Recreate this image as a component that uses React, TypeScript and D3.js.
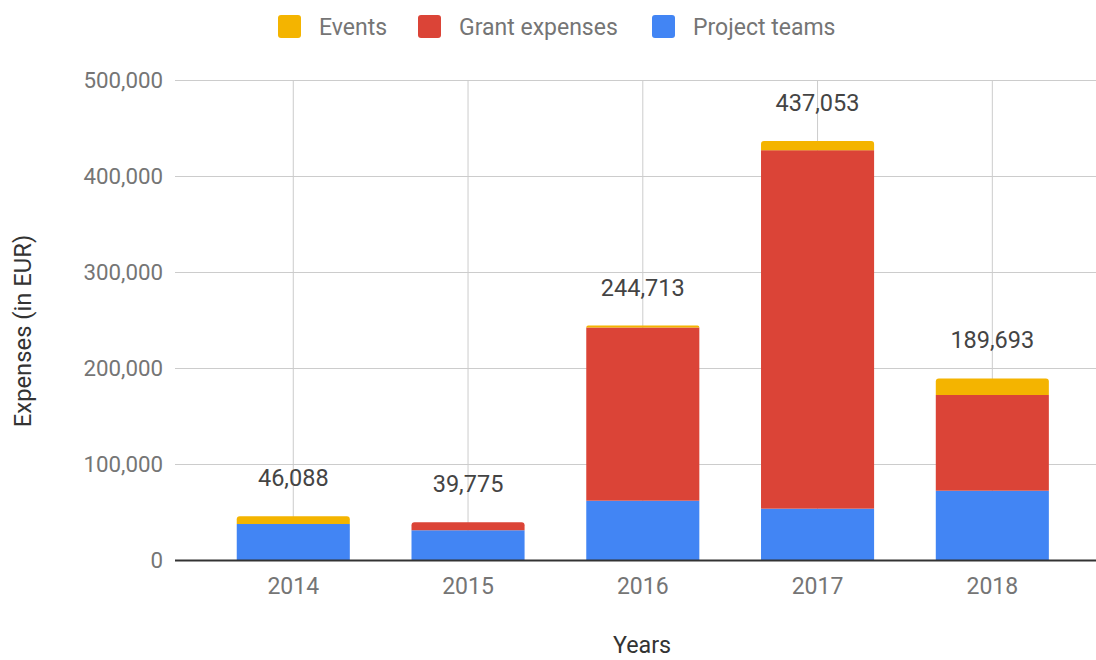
import React, { useEffect } from "react";
import * as d3 from "d3";

const years = ["2014", "2015", "2016", "2017", "2018"];
const projectTeams = [38000, 31500, 62300, 54000, 72700];
const grantExpenses = [0, 8275, 180413, 373400, 99700];
const events = [8088, 0, 2000, 9653, 17293];
const totals = [46088, 39775, 244713, 437053, 189693];
const seriesNames = ["Events", "Grant expenses", "Project teams"];
const seriesColors = ["#f4b400", "#db4437", "#4285f4"];
const yTicks = [0, 100000, 200000, 300000, 400000, 500000];

const W = 1096;
const H = 660;
const FONT = "Roboto, 'Noto Sans', Arial, sans-serif";

export default function App() {
  useEffect(() => {
    document.body.style.margin = "0";
  }, []);

  const plotLeft = 175;
  const plotRight = 1096;
  const x = d3.scaleBand<string>().domain(years).range([205.9, 1079.7]).paddingInner(0.353).paddingOuter(0.1765);
  const y = d3.scaleLinear().domain([0, 500000]).range([560.5, 80.5]);
  const fmt = d3.format(",");

  const rows = years.map((yr, i) => ({
    year: yr,
    "Project teams": projectTeams[i],
    "Grant expenses": grantExpenses[i],
    Events: events[i],
  }));
  const stackOrder = ["Project teams", "Grant expenses", "Events"];
  const stacked = d3.stack<any>().keys(stackOrder)(rows);
  const colorOf = (k: string) => seriesColors[seriesNames.indexOf(k)];

  const legendX = [278, 418, 652];

  const topRounded = (x0: number, y0: number, w: number, h: number, r: number) => {
    const rr = Math.min(r, h);
    return `M${x0},${y0 + h}V${y0 + rr}Q${x0},${y0} ${x0 + rr},${y0}H${x0 + w - rr}Q${x0 + w},${y0} ${x0 + w},${y0 + rr}V${y0 + h}Z`;
  };

  return (
    <svg width={W} height={H} style={{ display: "block" }} fontFamily={FONT}>
      <rect width={W} height={H} fill="#ffffff" />
      {/* legend */}
      {seriesNames.map((n, i) => (
        <g key={n}>
          <rect x={legendX[i]} y={15} width={23} height={23} rx={3} fill={seriesColors[i]} />
          <text x={legendX[i] + 41} y={35} fontSize={23} fill="#757575">{n}</text>
        </g>
      ))}
      {/* horizontal grid */}
      {yTicks.map((t) => (
        <g key={t}>
          {t !== 0 && (
            <line x1={plotLeft} x2={plotRight} y1={y(t)} y2={y(t)} stroke="#cccccc" strokeWidth={1} />
          )}
          <text x={163} y={y(t)} dy="0.35em" textAnchor="end" fontSize={22.3} fill="#757575">
            {fmt(t)}
          </text>
        </g>
      ))}
      {/* vertical grid */}
      {years.map((yr) => {
        const cx = (x(yr) as number) + x.bandwidth() / 2;
        return <line key={yr} x1={cx} x2={cx} y1={y(500000)} y2={y(0)} stroke="#cccccc" strokeWidth={1} />;
      })}
      {/* bars */}
      {stacked.map((layer) =>
        layer.map((d, i) => {
          const h = y(d[0]) - y(d[1]);
          if (h <= 0) return null;
          const isTop = stacked.slice(stacked.indexOf(layer) + 1).every((l) => l[i][1] - l[i][0] <= 0);
          const x0 = x(years[i]) as number;
          return isTop ? (
            <path key={layer.key + i} d={topRounded(x0, y(d[1]), x.bandwidth(), h, 3)} fill={colorOf(layer.key)} />
          ) : (
            <rect key={layer.key + i} x={x0} y={y(d[1])} width={x.bandwidth()} height={h} fill={colorOf(layer.key)} />
          );
        })
      )}
      {/* baseline */}
      <line x1={plotLeft} x2={plotRight} y1={y(0)} y2={y(0)} stroke="#333333" strokeWidth={2} />
      {/* data labels */}
      {years.map((yr, i) => (
        <text
          key={yr}
          x={(x(yr) as number) + x.bandwidth() / 2}
          y={y(totals[i]) - 30}
          textAnchor="middle"
          fontSize={23.5}
          fill="#444444"
        >
          {fmt(totals[i])}
        </text>
      ))}
      {/* x tick labels */}
      {years.map((yr) => (
        <text key={yr} x={(x(yr) as number) + x.bandwidth() / 2} y={594} textAnchor="middle" fontSize={23} fill="#757575">
          {yr}
        </text>
      ))}
      {/* axis titles */}
      <text x={642} y={653} textAnchor="middle" fontSize={23.3} fill="#333333">Years</text>
      <text transform="translate(31,331) rotate(-90)" textAnchor="middle" fontSize={23.8} fill="#333333">
        Expenses (in EUR)
      </text>
    </svg>
  );
}
